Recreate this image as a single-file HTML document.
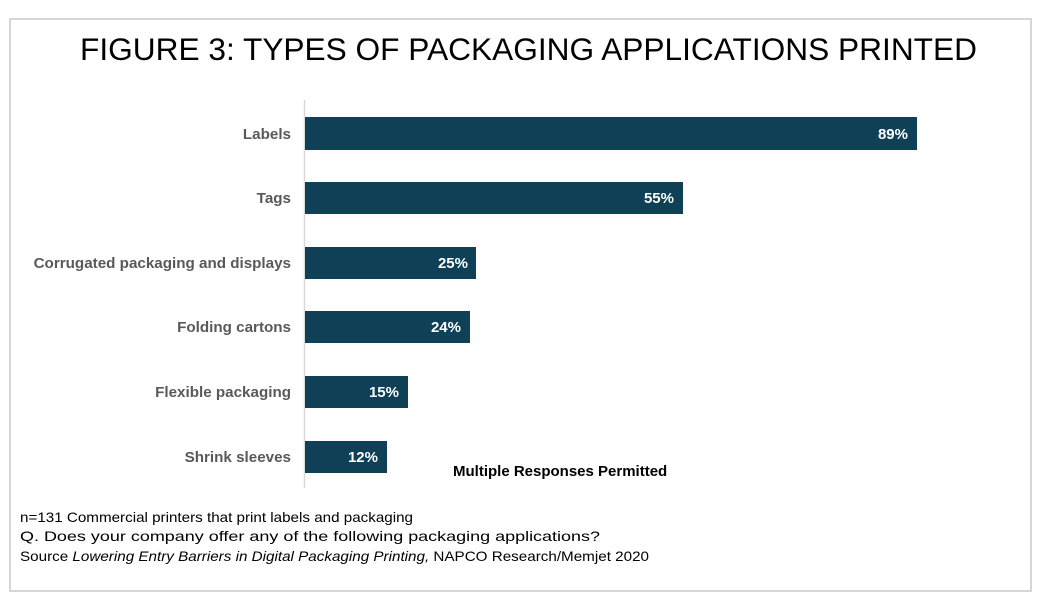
<!DOCTYPE html>
<html>
<head>
<meta charset="utf-8">
<style>
  html, body { margin: 0; padding: 0; background: #ffffff; }
  body { width: 1045px; height: 610px; overflow: hidden; }
  svg { display: block; }
  text { font-family: "Liberation Sans", Arial, sans-serif; }
</style>
</head>
<body>
<svg width="1045" height="610" viewBox="0 0 1045 610" xmlns="http://www.w3.org/2000/svg">
  <rect x="0" y="0" width="1045" height="610" fill="#ffffff"/>
  <!-- frame -->
  <rect x="10" y="19" width="1021" height="572" fill="none" stroke="#d6d6d6" stroke-width="2"/>

  <!-- title -->
  <text x="80" y="60" font-size="31.5" fill="#000000" textLength="897" lengthAdjust="spacingAndGlyphs">FIGURE 3: TYPES OF PACKAGING APPLICATIONS PRINTED</text>

  <!-- axis line -->
  <line x1="304.5" y1="100" x2="304.5" y2="488" stroke="#d9d9d9" stroke-width="1.5"/>

  <!-- bars -->
  <g fill="#0f4056">
    <rect x="305" y="117" width="612" height="33"/>
    <rect x="305" y="182" width="378" height="32"/>
    <rect x="305" y="247" width="171" height="32"/>
    <rect x="305" y="311" width="165" height="32"/>
    <rect x="305" y="376" width="103" height="32"/>
    <rect x="305" y="441" width="82" height="32"/>
  </g>

  <!-- category labels -->
  <g font-size="15.2" font-weight="bold" fill="#595959" text-anchor="end">
    <text x="291" y="139">Labels</text>
    <text x="291" y="203">Tags</text>
    <text x="291" y="268">Corrugated packaging and displays</text>
    <text x="291" y="332">Folding cartons</text>
    <text x="291" y="397">Flexible packaging</text>
    <text x="291" y="462">Shrink sleeves</text>
  </g>

  <!-- value labels -->
  <g font-size="15" font-weight="bold" fill="#ffffff" text-anchor="end">
    <text x="908" y="139">89%</text>
    <text x="674" y="203">55%</text>
    <text x="468" y="268">25%</text>
    <text x="461" y="332">24%</text>
    <text x="399" y="397">15%</text>
    <text x="378" y="462">12%</text>
  </g>

  <!-- note -->
  <text x="453" y="476" font-size="15" font-weight="bold" fill="#000000">Multiple Responses Permitted</text>

  <!-- footer -->
  <g font-size="14" fill="#000000">
    <text x="20" y="522" textLength="393" lengthAdjust="spacingAndGlyphs">n=131 Commercial printers that print labels and packaging</text>
    <text x="20" y="541" textLength="580" lengthAdjust="spacingAndGlyphs">Q. Does your company offer any of the following packaging applications?</text>
    <text x="20" y="561" textLength="629" lengthAdjust="spacingAndGlyphs">Source <tspan font-style="italic">Lowering Entry Barriers in Digital Packaging Printing,</tspan> NAPCO Research/Memjet 2020</text>
  </g>
</svg>
</body>
</html>
